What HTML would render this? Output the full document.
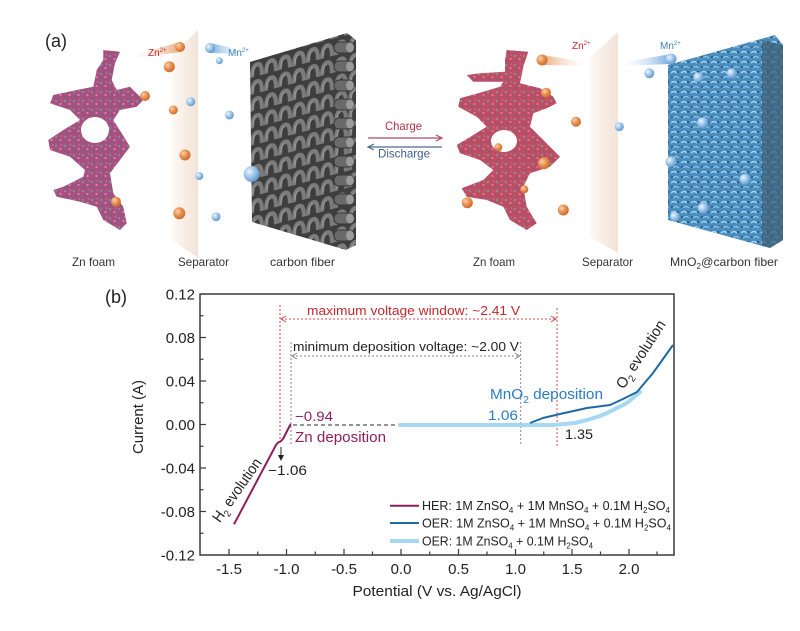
<!DOCTYPE html>
<html><head><meta charset="utf-8"><style>
html,body{margin:0;padding:0;background:#fff;}
svg{display:block;font-family:"Liberation Sans",Arial,sans-serif;}
</style></head><body>
<svg width="800" height="631" viewBox="0 0 800 631" xmlns="http://www.w3.org/2000/svg">
<defs>
  <radialGradient id="gOr" cx="0.35" cy="0.35" r="0.7">
    <stop offset="0" stop-color="#fbd2ae"/><stop offset="0.5" stop-color="#e8904f"/><stop offset="1" stop-color="#c86a2c"/>
  </radialGradient>
  <radialGradient id="gBl" cx="0.35" cy="0.35" r="0.7">
    <stop offset="0" stop-color="#eef6ff"/><stop offset="0.5" stop-color="#9cc6ea"/><stop offset="1" stop-color="#5e95c8"/>
  </radialGradient>
  <linearGradient id="gSep" x1="0" x2="1" y1="0" y2="0">
    <stop offset="0" stop-color="#fdf8f4"/><stop offset="1" stop-color="#f2e3d8"/>
  </linearGradient>
  <linearGradient id="gTrO" x1="1" x2="0" y1="0" y2="0">
    <stop offset="0" stop-color="#eaa878"/><stop offset="1" stop-color="#fff" stop-opacity="0"/>
  </linearGradient>
  <linearGradient id="gTrO2" x1="0" x2="1" y1="0" y2="0">
    <stop offset="0" stop-color="#eaa878"/><stop offset="1" stop-color="#fff" stop-opacity="0"/>
  </linearGradient>
  <linearGradient id="gTrB" x1="0" x2="1" y1="0" y2="0">
    <stop offset="0" stop-color="#6fa9dc"/><stop offset="1" stop-color="#fff" stop-opacity="0"/>
  </linearGradient>
  <linearGradient id="gTrB2" x1="1" x2="0" y1="0" y2="0">
    <stop offset="0" stop-color="#6fa9dc"/><stop offset="1" stop-color="#fff" stop-opacity="0"/>
  </linearGradient>
  <pattern id="pFoamL" width="9" height="9" patternUnits="userSpaceOnUse">
    <rect width="9" height="9" fill="#a6507f"/>
    <circle cx="2" cy="2" r="1.3" fill="#7a8a98"/>
    <circle cx="6.5" cy="5" r="1.1" fill="#d883b0"/>
    <circle cx="3.5" cy="7" r="0.9" fill="#5e6e80"/>
    <circle cx="7.5" cy="1" r="0.8" fill="#c77aa3"/>
  </pattern>
  <pattern id="pFoamR" width="9" height="9" patternUnits="userSpaceOnUse">
    <rect width="9" height="9" fill="#bb4d66"/>
    <circle cx="2" cy="2" r="1.3" fill="#8f8a80"/>
    <circle cx="6.5" cy="5" r="1.1" fill="#e0788e"/>
    <circle cx="3.5" cy="7" r="0.9" fill="#6e6a66"/>
    <circle cx="7.5" cy="1" r="0.8" fill="#d86a80"/>
  </pattern>
  <pattern id="pCF" width="14" height="17" patternUnits="userSpaceOnUse" patternTransform="skewY(-15) translate(250,62)">
    <rect width="14" height="17" fill="#3e3e3e"/>
    <path d="M2,15 Q2,3 7,3 Q12,3 12,15" fill="none" stroke="#7c7c7c" stroke-width="4"/>
    <path d="M3,13 Q3,5 7,5" fill="none" stroke="#a2a2a2" stroke-width="1"/>
  </pattern>
  <pattern id="pMn" width="10" height="10" patternUnits="userSpaceOnUse">
    <rect width="10" height="10" fill="#4a8cbd"/>
    <path d="M1,3 Q4,0 7,3" fill="none" stroke="#9ad6f2" stroke-width="1.4"/>
    <path d="M3,8 Q6,5 9,8" fill="none" stroke="#86c6ea" stroke-width="1.2"/>
    <circle cx="8" cy="2" r="1" fill="#2c4a5e"/>
    <circle cx="2" cy="7" r="1" fill="#3a5566"/>
  </pattern>
</defs>

<!-- ===== Panel (a) ===== -->
<text x="45" y="47" font-size="18" fill="#222">(a)</text>

<!-- left separator -->
<polygon points="172,55 198,30 198,258 172,240" fill="url(#gSep)"/>
<!-- left Zn foam -->
<path fill="url(#pFoamL)" fill-rule="evenodd" d="M103.3,50 L120,51.7 L115,63.3 L111.7,80 L116.7,90 L130,86.7 L143.3,100 L136.7,106.7 L120,110 L113.3,120 L121.7,133.3 L130,146.7 L120,160 L110,173.3 L113.3,193.3 L123.3,206.7 L126.7,223.3 L120,230 L103.3,220 L96.7,206.7 L80,201.7 L56.7,196.7 L53.3,190 L63.3,186.7 L83.3,176.7 L85,170 L70,156.7 L50,150 L48.3,140 L63.3,130 L80,120 L70,110 L50,103.3 L53.3,95 L76.7,90 L93.3,86.7 L96.7,70 L103.3,60 Z M81,130 A14,13 0 1 0 109,130 A14,13 0 1 0 81,130 Z"/>

<!-- carbon fiber block -->
<polygon points="250,62 347,33 356,40 356,245 346,250 252,222" fill="url(#pCF)"/>
<g fill="#6a6a6a" stroke="#3a3a3a" stroke-width="1">
  <rect x="334" y="42" width="20" height="11" rx="5"/>
  <rect x="334" y="61" width="20" height="11" rx="5"/>
  <rect x="334" y="80" width="20" height="11" rx="5"/>
  <rect x="334" y="99" width="20" height="11" rx="5"/>
  <rect x="334" y="118" width="20" height="11" rx="5"/>
  <rect x="334" y="137" width="20" height="11" rx="5"/>
  <rect x="334" y="156" width="20" height="11" rx="5"/>
  <rect x="334" y="175" width="20" height="11" rx="5"/>
  <rect x="334" y="194" width="20" height="11" rx="5"/>
  <rect x="334" y="213" width="20" height="11" rx="5"/>
  <rect x="334" y="230" width="20" height="11" rx="5"/>
</g>
<g fill="#9a9a9a">
  <ellipse cx="350" cy="47.5" rx="4" ry="5"/><ellipse cx="350" cy="66.5" rx="4" ry="5"/>
  <ellipse cx="350" cy="85.5" rx="4" ry="5"/><ellipse cx="350" cy="104.5" rx="4" ry="5"/>
  <ellipse cx="350" cy="123.5" rx="4" ry="5"/><ellipse cx="350" cy="142.5" rx="4" ry="5"/>
  <ellipse cx="350" cy="161.5" rx="4" ry="5"/><ellipse cx="350" cy="180.5" rx="4" ry="5"/>
  <ellipse cx="350" cy="199.5" rx="4" ry="5"/><ellipse cx="350" cy="218.5" rx="4" ry="5"/>
  <ellipse cx="350" cy="235.5" rx="4" ry="5"/>
</g>

<!-- comets left -->
<polygon points="180,42 127,57 129,59 180,52" fill="url(#gTrO)"/>
<circle cx="180" cy="47" r="5" fill="url(#gOr)"/>
<polygon points="210,43 247,51 247,54 210,53" fill="url(#gTrB)"/>
<circle cx="210" cy="48" r="5" fill="url(#gBl)"/>
<text x="148" y="56" font-size="10" fill="#c0282d">Zn<tspan font-size="6" dy="-4">2+</tspan></text>
<text x="228" y="56" font-size="10" fill="#3a7fc0">Mn<tspan font-size="6" dy="-4">2+</tspan></text>

<!-- ions left -->
<g fill="url(#gOr)">
  <circle cx="169.3" cy="66.7" r="5.5"/><circle cx="145" cy="96" r="5"/>
  <circle cx="173.3" cy="110" r="4.5"/><circle cx="185" cy="155" r="5.5"/>
  <circle cx="116" cy="201.7" r="5"/><circle cx="179.3" cy="213.3" r="6"/>
</g>
<g fill="url(#gBl)">
  <circle cx="219.3" cy="60.7" r="3.5"/><circle cx="190.7" cy="101.7" r="4.5"/>
  <circle cx="229.3" cy="115" r="4.5"/><circle cx="199.3" cy="176" r="4"/>
  <circle cx="251.7" cy="174" r="8"/><circle cx="216" cy="216.7" r="4.5"/>
</g>

<!-- charge / discharge -->
<text x="385" y="130" font-size="12" fill="#b0304a" textLength="37" lengthAdjust="spacingAndGlyphs">Charge</text>
<line x1="368" y1="138" x2="441" y2="138" stroke="#b04a66" stroke-width="1.2"/>
<polyline points="436,135 442,138 436,141" fill="none" stroke="#b04a66" stroke-width="1.2"/>
<line x1="369" y1="147" x2="442" y2="147" stroke="#4d6a8c" stroke-width="1.2"/>
<polyline points="374,144 368,147 374,150" fill="none" stroke="#4d6a8c" stroke-width="1.2"/>
<text x="378" y="157.5" font-size="12" fill="#3f5f86" textLength="52" lengthAdjust="spacingAndGlyphs">Discharge</text>

<!-- right separator -->
<polygon points="590,57 618,32 618,253 590,237" fill="url(#gSep)"/>
<!-- right Zn foam -->
<path fill="url(#pFoamR)" fill-rule="evenodd" d="M506.7,50 L528.3,51.7 L523.3,66.7 L520,83.3 L540,88.3 L553.3,96.7 L556.7,103.3 L546.7,108.3 L533.3,113.3 L530,126.7 L543.3,140 L560,156.7 L550,166.7 L530,173.3 L523.3,186.7 L526.7,206.7 L536.7,223.3 L526.7,230 L510,220 L503.3,206.7 L486.7,200 L466.7,196.7 L461.7,188.3 L483.3,180 L493.3,170 L480,160 L460,153.3 L456.7,145 L473.3,135 L486.7,126.7 L476.7,116.7 L458.3,106.7 L460,98.3 L483.3,91.7 L500,86.7 L503.3,81.7 L473.3,81.7 L466.7,75 L480,73.3 L505,71.7 L505,60 Z M491,141 A13,11 0 1 0 517,141 A13,11 0 1 0 491,141 Z"/>

<!-- MnO2 block -->
<polygon points="668,65 775,35 783,45 783,240 770,248 668,220" fill="url(#pMn)"/>
<polygon points="762,40 783,45 783,240 770,248 762,246" fill="#3d5f74" opacity="0.75"/>

<!-- comets right -->
<polygon points="542,55 592,63 592,66 542,65" fill="url(#gTrO2)"/>
<circle cx="542" cy="60" r="5.5" fill="url(#gOr)"/>
<polygon points="671,54 618,63 618,66 671,64" fill="url(#gTrB2)"/>
<circle cx="671" cy="59" r="5.5" fill="url(#gBl)"/>
<text x="572" y="49" font-size="10" fill="#c0282d">Zn<tspan font-size="6" dy="-4">2+</tspan></text>
<text x="660" y="49" font-size="10" fill="#3a7fc0">Mn<tspan font-size="6" dy="-4">2+</tspan></text>

<g fill="url(#gOr)">
  <circle cx="546" cy="92.7" r="5"/><circle cx="576" cy="121.7" r="5"/>
  <circle cx="498.3" cy="147.3" r="4"/><circle cx="544" cy="163.3" r="6"/>
  <circle cx="524.3" cy="189.3" r="4"/><circle cx="467.3" cy="202.7" r="5.5"/>
  <circle cx="563.3" cy="210" r="5.5"/>
</g>
<g fill="url(#gBl)">
  <circle cx="649.3" cy="73.3" r="5"/><circle cx="619.3" cy="126.7" r="4.5"/>
  <circle cx="698.3" cy="77.3" r="5"/><circle cx="731.7" cy="73.3" r="5"/>
  <circle cx="702.7" cy="122.7" r="5.5"/><circle cx="671" cy="161.7" r="5.5"/>
  <circle cx="745" cy="179.3" r="5.5"/><circle cx="703.3" cy="208.3" r="5.5"/>
  <circle cx="675" cy="216.7" r="5"/>
</g>

<!-- panel labels -->
<g font-size="12" fill="#333">
  <text x="72" y="266" textLength="43" lengthAdjust="spacingAndGlyphs">Zn foam</text>
  <text x="178" y="266" textLength="51" lengthAdjust="spacingAndGlyphs">Separator</text>
  <text x="270" y="266" textLength="65" lengthAdjust="spacingAndGlyphs">carbon fiber</text>
  <text x="473" y="266" textLength="42" lengthAdjust="spacingAndGlyphs">Zn foam</text>
  <text x="582" y="266" textLength="51" lengthAdjust="spacingAndGlyphs">Separator</text>
  <text x="670" y="266" textLength="108" lengthAdjust="spacingAndGlyphs">MnO<tspan font-size="8" dy="3">2</tspan><tspan dy="-3">@carbon fiber</tspan></text>
</g>

<!-- ===== Panel (b) ===== -->
<text x="105" y="303" font-size="18" fill="#222">(b)</text>

<!-- frame -->
<rect x="200" y="294" width="474" height="261" fill="none" stroke="#3a3a3a" stroke-width="1.5"/>
<!-- y ticks -->
<g stroke="#3a3a3a" stroke-width="1.2">
  <line x1="200" y1="337.5" x2="206" y2="337.5"/><line x1="200" y1="381" x2="206" y2="381"/>
  <line x1="200" y1="424.5" x2="206" y2="424.5"/><line x1="200" y1="468" x2="206" y2="468"/>
  <line x1="200" y1="511.5" x2="206" y2="511.5"/>
  <line x1="200" y1="315.75" x2="203.5" y2="315.75"/><line x1="200" y1="359.25" x2="203.5" y2="359.25"/>
  <line x1="200" y1="402.75" x2="203.5" y2="402.75"/><line x1="200" y1="446.25" x2="203.5" y2="446.25"/>
  <line x1="200" y1="489.75" x2="203.5" y2="489.75"/><line x1="200" y1="533.25" x2="203.5" y2="533.25"/>
  <!-- x ticks -->
  <line x1="229" y1="555" x2="229" y2="549"/><line x1="286.5" y1="555" x2="286.5" y2="549"/>
  <line x1="344" y1="555" x2="344" y2="549"/><line x1="401" y1="555" x2="401" y2="549"/>
  <line x1="458.5" y1="555" x2="458.5" y2="549"/><line x1="515.5" y1="555" x2="515.5" y2="549"/>
  <line x1="572" y1="555" x2="572" y2="549"/><line x1="629" y1="555" x2="629" y2="549"/>
  <line x1="257.75" y1="555" x2="257.75" y2="551.5"/><line x1="315.25" y1="555" x2="315.25" y2="551.5"/>
  <line x1="372.5" y1="555" x2="372.5" y2="551.5"/><line x1="429.75" y1="555" x2="429.75" y2="551.5"/>
  <line x1="487" y1="555" x2="487" y2="551.5"/><line x1="543.75" y1="555" x2="543.75" y2="551.5"/>
  <line x1="600.5" y1="555" x2="600.5" y2="551.5"/><line x1="657" y1="555" x2="657" y2="551.5"/>
</g>
<g font-size="15" fill="#222" text-anchor="end">
  <text x="195" y="299.5">0.12</text><text x="195" y="343">0.08</text>
  <text x="195" y="386.5">0.04</text><text x="195" y="430">0.00</text>
  <text x="195" y="473.5">-0.04</text><text x="195" y="517">-0.08</text>
  <text x="195" y="560.5">-0.12</text>
</g>
<g font-size="15" fill="#222" text-anchor="middle">
  <text x="229" y="574">-1.5</text><text x="286.5" y="574">-1.0</text>
  <text x="344" y="574">-0.5</text><text x="401" y="574">0.0</text>
  <text x="458.5" y="574">0.5</text><text x="515.5" y="574">1.0</text>
  <text x="572" y="574">1.5</text><text x="629" y="574">2.0</text>
  <text x="437" y="596" textLength="169" lengthAdjust="spacingAndGlyphs">Potential (V vs. Ag/AgCl)</text>
</g>
<text transform="translate(143,417) rotate(-90)" font-size="15" fill="#222" text-anchor="middle" textLength="74" lengthAdjust="spacingAndGlyphs">Current (A)</text>

<!-- annotation lines -->
<g fill="none" stroke="#d84a4a" stroke-width="1" stroke-dasharray="2,2">
  <line x1="280" y1="305" x2="280" y2="441"/>
  <line x1="557" y1="308" x2="557" y2="447"/>
  <line x1="281" y1="319" x2="556" y2="319"/>
</g>
<g fill="none" stroke="#d84a4a" stroke-width="1">
  <polyline points="286,316 281,319 286,322"/>
  <polyline points="551,316 556,319 551,322"/>
</g>
<g fill="none" stroke="#888" stroke-width="1" stroke-dasharray="2,2">
  <line x1="291" y1="342" x2="291" y2="446"/>
  <line x1="520.7" y1="342" x2="520.7" y2="446"/>
  <line x1="292" y1="356" x2="520" y2="356"/>
</g>
<g fill="none" stroke="#888" stroke-width="1">
  <polyline points="297,353 292,356 297,359"/>
  <polyline points="514.7,353 519.7,356 514.7,359"/>
</g>
<text x="307" y="315" font-size="13" fill="#c0282d" textLength="213" lengthAdjust="spacingAndGlyphs">maximum voltage window: ~2.41 V</text>
<text x="293" y="351" font-size="13" fill="#222" textLength="226" lengthAdjust="spacingAndGlyphs">minimum deposition voltage: ~2.00 V</text>

<!-- data -->
<line x1="293" y1="425" x2="400" y2="425" stroke="#555" stroke-width="1.2" stroke-dasharray="4,3"/>
<polyline points="400,425 553,425 575,423 587,420 600,416 607,413 627,403 640,392" fill="none" stroke="#a6d8f2" stroke-width="4" stroke-linecap="round" stroke-linejoin="round"/>
<polyline points="530,423 543,418 560,414 587,408 610,405 623,399 637,392 653,373 673,345" fill="none" stroke="#1d6aa5" stroke-width="2" stroke-linejoin="round"/>
<path d="M234,524.3 L276,445 Q278,442 280,441.7 Q283,440 285,435 L290.7,424" fill="none" stroke="#8e1f5c" stroke-width="2" stroke-linejoin="round"/>

<!-- down arrow -->
<line x1="281" y1="447" x2="281" y2="456" stroke="#222" stroke-width="1"/>
<polygon points="278,455 284,455 281,461" fill="#222"/>

<!-- curve labels -->
<text x="295" y="421" font-size="14" fill="#8e1f5c" textLength="38" lengthAdjust="spacingAndGlyphs">−0.94</text>
<text x="295" y="442" font-size="15" fill="#8e1f5c" textLength="91" lengthAdjust="spacingAndGlyphs">Zn deposition</text>
<text x="268" y="475" font-size="14" fill="#222" textLength="39" lengthAdjust="spacingAndGlyphs">−1.06</text>
<text x="488" y="420" font-size="14" fill="#2b7bbf" textLength="30" lengthAdjust="spacingAndGlyphs">1.06</text>
<text x="490" y="399" font-size="15" fill="#2b7bbf" textLength="113" lengthAdjust="spacingAndGlyphs">MnO<tspan font-size="10" dy="4">2</tspan><tspan dy="-4"> deposition</tspan></text>
<text x="565" y="439" font-size="14" fill="#222" textLength="28" lengthAdjust="spacingAndGlyphs">1.35</text>
<text transform="translate(241,493) rotate(-55)" font-size="15" fill="#222" text-anchor="middle" textLength="74" lengthAdjust="spacingAndGlyphs">H<tspan font-size="10" dy="4">2</tspan><tspan dy="-4"> evolution</tspan></text>
<text transform="translate(645,357) rotate(-57)" font-size="15" fill="#222" text-anchor="middle" textLength="78" lengthAdjust="spacingAndGlyphs">O<tspan font-size="10" dy="4">2</tspan><tspan dy="-4"> evolution</tspan></text>

<!-- legend -->
<line x1="390" y1="505.7" x2="419" y2="505.7" stroke="#8e1f5c" stroke-width="2"/>
<line x1="390" y1="523" x2="419" y2="523" stroke="#1d6aa5" stroke-width="2"/>
<line x1="390" y1="541" x2="419" y2="541" stroke="#a6d8f2" stroke-width="4"/>
<g font-size="12.5" fill="#222">
  <text x="422" y="510" textLength="248" lengthAdjust="spacingAndGlyphs">HER: 1M ZnSO<tspan font-size="8" dy="3">4</tspan><tspan dy="-3"> + 1M MnSO</tspan><tspan font-size="8" dy="3">4</tspan><tspan dy="-3"> + 0.1M H</tspan><tspan font-size="8" dy="3">2</tspan><tspan dy="-3">SO</tspan><tspan font-size="8" dy="3">4</tspan></text>
  <text x="422" y="527.5" textLength="249" lengthAdjust="spacingAndGlyphs">OER: 1M ZnSO<tspan font-size="8" dy="3">4</tspan><tspan dy="-3"> + 1M MnSO</tspan><tspan font-size="8" dy="3">4</tspan><tspan dy="-3"> + 0.1M H</tspan><tspan font-size="8" dy="3">2</tspan><tspan dy="-3">SO</tspan><tspan font-size="8" dy="3">4</tspan></text>
  <text x="422" y="545.5" textLength="171" lengthAdjust="spacingAndGlyphs">OER: 1M ZnSO<tspan font-size="8" dy="3">4</tspan><tspan dy="-3"> + 0.1M H</tspan><tspan font-size="8" dy="3">2</tspan><tspan dy="-3">SO</tspan><tspan font-size="8" dy="3">4</tspan></text>
</g>
</svg>
</body></html>
